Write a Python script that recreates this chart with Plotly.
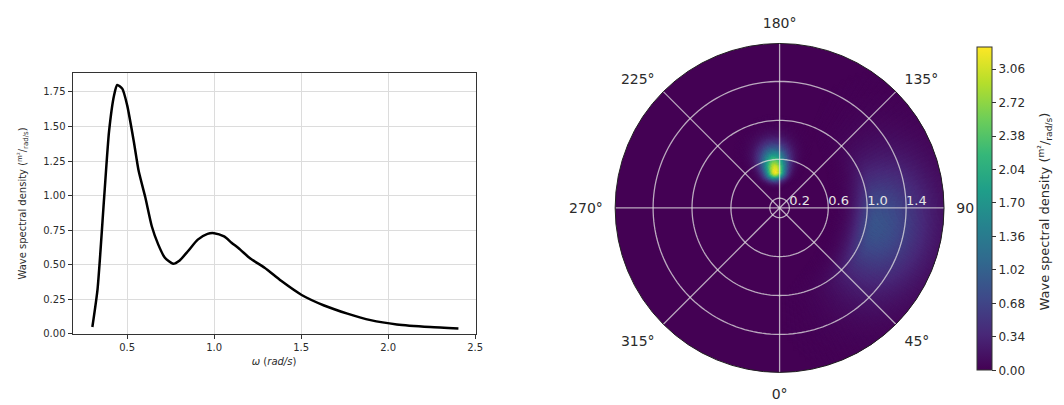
import numpy as np
import plotly.graph_objects as go

# ---- 1D spectrum: angular frequency (rad/s) and spectral density ----
omega = [0.30, 0.33, 0.368, 0.396, 0.425, 0.443, 0.472, 0.50, 0.538, 0.566, 0.604,
         0.642, 0.679, 0.717, 0.764, 0.802, 0.849, 0.906, 0.962, 1.00, 1.057, 1.10,
         1.15, 1.208, 1.29, 1.385, 1.503, 1.632, 1.766, 1.899, 2.05, 2.242, 2.404]
density = [0.05, 0.325, 0.99, 1.465, 1.727, 1.80, 1.774, 1.655, 1.394, 1.18, 0.99,
           0.777, 0.646, 0.551, 0.508, 0.532, 0.598, 0.682, 0.724, 0.729, 0.705, 0.66,
           0.61, 0.545, 0.479, 0.384, 0.282, 0.206, 0.147, 0.10, 0.069, 0.05, 0.04]

x_ticks = [0.5, 1.0, 1.5, 2.0, 2.5]
y_ticks = [0.0, 0.25, 0.5, 0.75, 1.0, 1.25, 1.5, 1.75]

# ---- directional spectrum: two partitions (swell, wind sea) ----
peak_density = [3.26, 0.86]
peak_omega = [0.47, 1.10]
peak_direction = [187, 80]
omega_spread_low = [0.055, 0.15]
omega_spread_high = [0.16, 0.38]
direction_spread = [11, 24]

cbar_ticks = [0.00, 0.34, 0.68, 1.02, 1.36, 1.70, 2.04, 2.38, 2.72, 3.06]
radial_ticks = [0.2, 0.6, 1.0, 1.4]
angle_ticks = [0, 45, 90, 135, 180, 225, 270, 315]
angle_text = ["0°", "45°", "90", "135°", "180°", "225°", "270°", "315°"]

R_MIN, R_MAX = 0.1, 1.79
C_MAX = 3.28

# polar grid of cells
dr = 0.012
dth = 2.0
r_in = np.arange(R_MIN, R_MAX, dr)
r_mid = r_in + dr / 2
th_mid = np.arange(0, 360, dth) + dth / 2
RR, TT = np.meshgrid(r_mid, th_mid, indexing="ij")
field = np.zeros_like(RR)
for A, w0, d0, slo, shi, sd in zip(peak_density, peak_omega, peak_direction,
                                   omega_spread_low, omega_spread_high, direction_spread):
    s = np.where(RR < w0, slo, shi)
    dth_w = (TT - d0 + 180) % 360 - 180
    field += A * np.exp(-0.5 * ((RR - w0) / s) ** 2) * np.exp(-0.5 * (dth_w / sd) ** 2)

keep = field > 0.004
base_vals = (RR - dr / 2)[keep]
theta_vals = TT[keep]
color_vals = field[keep]

FONT = "DejaVu Sans"
TXT = "#2b2b2b"
GRID_POLAR = "rgba(225,225,225,0.75)"

fig = go.Figure()

fig.add_trace(go.Scatter(
    x=omega, y=density, mode="lines",
    line=dict(color="black", width=2.5, shape="spline", smoothing=0.6),
    hoverinfo="skip", showlegend=False,
))

fig.add_trace(go.Barpolar(
    r=np.full(color_vals.shape, dr * 1.5),
    base=base_vals,
    theta=theta_vals,
    width=dth * 1.4,
    marker=dict(
        color=color_vals, colorscale="Viridis", cmin=0, cmax=C_MAX,
        line=dict(width=0),
        showscale=True,
        colorbar=dict(
            x=0.915, xanchor="left", y=0.4765, yanchor="middle",
            len=0.859, lenmode="fraction", thickness=15,
            outlinecolor="#333", outlinewidth=1,
            tickvals=cbar_ticks, ticktext=[f"{v:.2f}" for v in cbar_ticks],
            ticks="outside", ticklen=4, tickcolor="#333",
            tickfont=dict(family=FONT, size=12, color=TXT),
        ),
    ),
    hoverinfo="skip", showlegend=False,
))

# polar grid drawn over the density cells
ring_theta = list(range(0, 361, 2))
for rv in radial_ticks:
    fig.add_trace(go.Scatterpolar(
        r=[rv] * len(ring_theta), theta=ring_theta, mode="lines",
        line=dict(color=GRID_POLAR, width=1.3),
        hoverinfo="skip", showlegend=False,
    ))
spoke_r, spoke_t = [], []
for a in angle_ticks:
    spoke_r += [R_MIN, R_MAX, None]
    spoke_t += [a, a, None]
fig.add_trace(go.Scatterpolar(
    r=spoke_r, theta=spoke_t, mode="lines",
    line=dict(color=GRID_POLAR, width=1.3),
    hoverinfo="skip", showlegend=False,
))
fig.add_trace(go.Scatterpolar(
    r=radial_ticks, theta=[90] * len(radial_ticks), mode="text",
    text=[f"{v:.1f}" for v in radial_ticks], textposition="top right",
    textfont=dict(family=FONT, size=13, color="#e6e6e6"),
    hoverinfo="skip", showlegend=False,
))

fig.update_layout(
    width=1064, height=405,
    margin=dict(l=0, r=0, t=0, b=0),
    paper_bgcolor="white", plot_bgcolor="white",
    font=dict(family=FONT, color=TXT),
    xaxis=dict(
        domain=[0.0686, 0.450], range=[0.186, 2.503],
        tickvals=x_ticks, ticktext=[f"{v:.1f}" for v in x_ticks],
        ticks="outside", ticklen=4, tickcolor="#333",
        tickfont=dict(size=10, color=TXT),
        showgrid=True, gridcolor="#dcdcdc", gridwidth=1,
        showline=True, linecolor="#333", linewidth=1, mirror=True,
        zeroline=False,
        title=dict(text="<i>ω</i> (<i>rad/s</i>)", font=dict(size=10, color=TXT), standoff=6),
    ),
    yaxis=dict(
        domain=[0.163, 0.817], range=[0, 1.887],
        tickvals=y_ticks, ticktext=[f"{v:.2f}" for v in y_ticks],
        ticks="outside", ticklen=4, tickcolor="#333",
        tickfont=dict(size=10, color=TXT),
        showgrid=True, gridcolor="#dcdcdc", gridwidth=1,
        showline=True, linecolor="#333", linewidth=1, mirror=True,
        zeroline=False,
        title=dict(text="Wave spectral density (<sup>m²</sup>/<sub>rad/s</sub>)",
                   font=dict(size=10, color=TXT), standoff=14),
    ),
    polar=dict(
        domain=dict(x=[0.5806, 0.8945], y=[0.0667, 0.891]),
        bgcolor="#440154",
        radialaxis=dict(
            range=[R_MIN, R_MAX], showticklabels=False,
            ticks="", showline=False, showgrid=False,
        ),
        angularaxis=dict(
            rotation=-90, direction="counterclockwise",
            tickvals=angle_ticks, ticktext=angle_text,
            ticks="outside", ticklen=9, tickcolor="rgba(0,0,0,0)",
            tickfont=dict(size=14, color=TXT), showgrid=False,
            showline=True, linecolor="#222", linewidth=1,
        ),
    ),
    annotations=[dict(
        text="Wave spectral density (<sup>m²</sup>/<sub>rad/s</sub>)",
        x=1052 / 1064, y=0.47, xref="paper", yref="paper",
        xanchor="center", yanchor="middle", textangle=-90, showarrow=False,
        font=dict(family=FONT, size=13, color=TXT),
    )],
)

fig.write_html("out.html")
